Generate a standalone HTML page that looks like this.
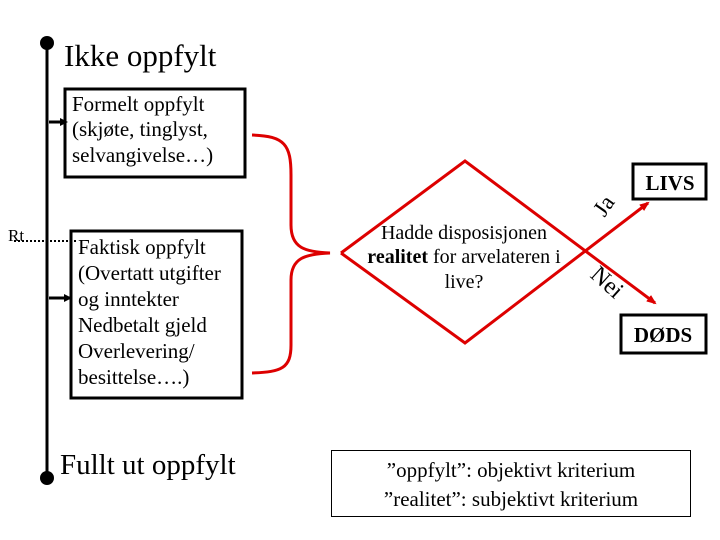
<!DOCTYPE html>
<html><head><meta charset="utf-8"><style>
html,body{margin:0;padding:0;background:#fff;width:720px;height:540px;overflow:hidden}
svg{display:block;font-family:"Liberation Serif","DejaVu Serif",serif}
svg text{font-family:"Liberation Serif","DejaVu Serif",serif;fill:#000}
</style></head><body>
<svg width="720" height="540" viewBox="0 0 720 540" xmlns="http://www.w3.org/2000/svg" font-family="Liberation Serif, serif">
<defs>
<marker id="ab" markerWidth="8" markerHeight="8" refX="6" refY="4" orient="auto" markerUnits="userSpaceOnUse"><path d="M0,0 L8,4 L0,8 z" fill="#000"/></marker>
<marker id="ar" markerWidth="10" markerHeight="10" refX="8" refY="5" orient="auto" markerUnits="userSpaceOnUse"><path d="M0,1 L10,5 L0,9 z" fill="#d00"/></marker>
</defs>
<line x1="47" y1="42" x2="47" y2="478" stroke="#000" stroke-width="3"/>
<circle cx="47" cy="43" r="7" fill="#000"/>
<circle cx="47" cy="478" r="7" fill="#000"/>
<text x="64" y="66" font-size="31" font-family="Liberation Serif, serif">Ikke oppfylt</text>
<text x="60" y="474" font-size="29" font-family="Liberation Serif, serif">Fullt ut oppfylt</text>
<line x1="49" y1="122" x2="66" y2="122" stroke="#000" stroke-width="3" marker-end="url(#ab)"/>
<line x1="49" y1="298" x2="70" y2="298" stroke="#000" stroke-width="3" marker-end="url(#ab)"/>
<line x1="14" y1="241" x2="76" y2="241" stroke="#000" stroke-width="2" stroke-dasharray="2,2"/>
<text x="8" y="241" font-size="17" font-family="Liberation Serif, serif">Rt</text>
<rect x="65" y="89" width="180" height="88" fill="none" stroke="#000" stroke-width="3"/>
<text font-size="21" font-family="Liberation Serif, serif"><tspan x="72" y="111">Formelt oppfylt</tspan><tspan x="72" y="136">(skjøte, tinglyst,</tspan><tspan x="72" y="162">selvangivelse…)</tspan></text>
<rect x="71" y="231" width="171" height="167" fill="none" stroke="#000" stroke-width="3"/>
<text font-size="21" font-family="Liberation Serif, serif"><tspan x="78" y="254">Faktisk oppfylt</tspan><tspan x="78" y="280">(Overtatt utgifter</tspan><tspan x="78" y="306">og inntekter</tspan><tspan x="78" y="332">Nedbetalt gjeld</tspan><tspan x="78" y="358">Overlevering/</tspan><tspan x="78" y="384">besittelse….)</tspan></text>
<path d="M252,135 C285,136 291,145 291,175 L291,225 C291,248 305,252 330,253 C305,254 291,258 291,280 L291,345 C291,368 282,372 252,373" fill="none" stroke="#d00" stroke-width="3"/>
<path d="M341,253 L465,161 L655,303" fill="none" stroke="#d00" stroke-width="3" marker-end="url(#ar)"/>
<path d="M341,253 L465,343 L648,203" fill="none" stroke="#d00" stroke-width="3" marker-end="url(#ar)"/>
<text font-size="20" text-anchor="middle" font-family="Liberation Serif, serif"><tspan x="464" y="239">Hadde disposisjonen</tspan><tspan x="464" y="263"><tspan font-weight="bold">realitet</tspan> for arvelateren i</tspan><tspan x="464" y="288">live?</tspan></text>
<text x="610" y="210" font-size="23" transform="rotate(-55 610 210)" text-anchor="middle" font-family="Liberation Serif, serif">Ja</text>
<text x="602" y="288" font-size="24" transform="rotate(42 602 288)" text-anchor="middle" font-family="Liberation Serif, serif">Nei</text>
<rect x="633" y="164" width="73" height="35" fill="none" stroke="#000" stroke-width="3"/>
<text x="670" y="190" font-size="21" font-weight="bold" text-anchor="middle" font-family="Liberation Serif, serif">LIVS</text>
<rect x="621" y="315" width="85" height="38" fill="none" stroke="#000" stroke-width="3"/>
<text x="663" y="342" font-size="21" font-weight="bold" text-anchor="middle" font-family="Liberation Serif, serif">DØDS</text>
<rect x="331.5" y="450.5" width="359" height="66" fill="none" stroke="#000" stroke-width="1"/>
<text font-size="21" text-anchor="middle" font-family="Liberation Serif, serif"><tspan x="511" y="477">”oppfylt”:  objektivt kriterium</tspan><tspan x="511" y="506">”realitet”:  subjektivt kriterium</tspan></text>
</svg>
</body></html>
